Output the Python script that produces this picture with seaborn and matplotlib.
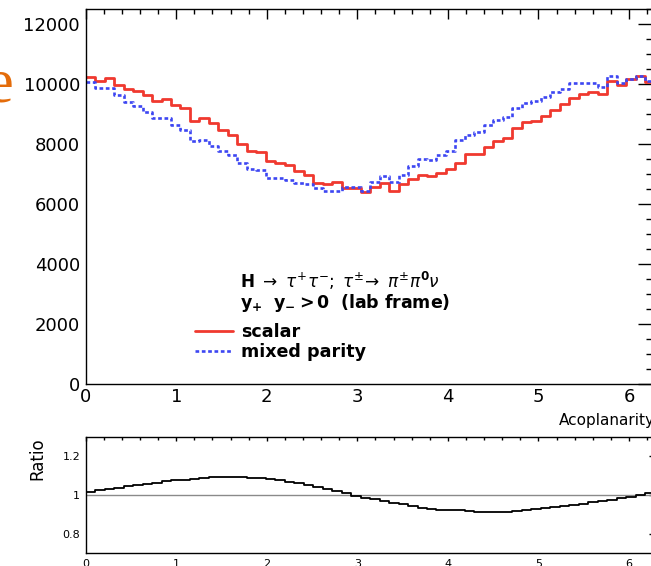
import numpy as np
import pandas as pd
import matplotlib
matplotlib.use("Agg")
import matplotlib.pyplot as plt
import seaborn as sns
from matplotlib.lines import Line2D
from matplotlib.ticker import MultipleLocator, FuncFormatter

# 60 bins over [0, 2pi]
N_BINS = 60
X_MAX = 2 * np.pi

scalar = [10223, 10111, 10200, 9967, 9833, 9756, 9633, 9433, 9489, 9300,
          9189, 8767, 8878, 8689, 8467, 8300, 8000, 7778, 7744, 7444,
          7378, 7300, 7111, 6967, 6711, 6656, 6722, 6544, 6544, 6389,
          6567, 6689, 6444, 6667, 6822, 6967, 6933, 7022, 7156, 7378,
          7656, 7656, 7911, 8100, 8211, 8522, 8722, 8778, 8944, 9133,
          9322, 9522, 9656, 9722, 9667, 10100, 9967, 10156, 10278, 10078]

mixed = [10056, 9856, 9856, 9633, 9411, 9267, 9078, 8856, 8856, 8633,
         8467, 8100, 8133, 7933, 7778, 7633, 7356, 7156, 7133, 6878,
         6856, 6800, 6689, 6656, 6522, 6444, 6444, 6556, 6556, 6444,
         6744, 6933, 6744, 6967, 7278, 7489, 7467, 7633, 7767, 8133,
         8300, 8400, 8633, 8800, 8911, 9211, 9356, 9433, 9578, 9722,
         9833, 10022, 10044, 10044, 9911, 10278, 10044, 10167, 10278, 10100]

ratio = [1.018, 1.024, 1.031, 1.038, 1.045, 1.052, 1.058, 1.064, 1.070, 1.075,
         1.080, 1.085, 1.089, 1.092, 1.093, 1.093, 1.092, 1.090, 1.087, 1.083,
         1.078, 1.068, 1.060, 1.051, 1.042, 1.033, 1.022, 1.008, 0.996, 0.987,
         0.978, 0.969, 0.960, 0.951, 0.942, 0.934, 0.928, 0.924, 0.921, 0.920,
         0.918, 0.913, 0.912, 0.912, 0.912, 0.917, 0.922, 0.928, 0.933, 0.939,
         0.945, 0.950, 0.956, 0.962, 0.968, 0.975, 0.983, 0.991, 0.999, 1.008]

edges = np.linspace(0, X_MAX, N_BINS + 1)
centers = 0.5 * (edges[:-1] + edges[1:])
bin_list = list(edges)
df = pd.DataFrame({"x": centers, "scalar": scalar, "mixed": mixed, "ratio": ratio})

RED = "#f0392f"
BLUE = "#3d46f2"

sns.set_theme(style="white")
plt.rcParams["font.family"] = ["DejaVu Sans"]
plt.rcParams["mathtext.fontset"] = "dejavusans"
plt.rcParams["text.color"] = "black"
plt.rcParams["axes.labelcolor"] = "black"
plt.rcParams["xtick.color"] = "black"
plt.rcParams["ytick.color"] = "black"

fig = plt.figure(figsize=(6.51, 5.66), dpi=100)
ax = fig.add_axes([0.1316, 0.3216, 0.8739, 0.6625])
ax2 = fig.add_axes([0.1316, 0.0230, 0.8739, 0.2049])

# main histograms
sns.histplot(data=df, x="x", weights="scalar", bins=bin_list, element="step",
             fill=False, color=RED, linewidth=2.0, ax=ax)
sns.histplot(data=df, x="x", weights="mixed", bins=bin_list, element="step",
             fill=False, color=BLUE, linewidth=1.9, linestyle=(0, (1.4, 1.0)), ax=ax)

ax.set_xlim(0, X_MAX)
ax.set_ylim(0, 12500)
ax.set_xlabel("")
ax.set_ylabel("")
ax.xaxis.set_major_locator(MultipleLocator(1))
ax.xaxis.set_minor_locator(MultipleLocator(0.2))
ax.yaxis.set_major_locator(MultipleLocator(2000))
ax.yaxis.set_minor_locator(MultipleLocator(500))
ax.tick_params(which="both", direction="in", top=True, right=True, colors="black")
ax.tick_params(axis="y", which="major", length=12.5, width=1.0, labelsize=13, pad=4)
ax.tick_params(axis="y", which="minor", length=6.5, width=1.0)
ax.tick_params(axis="x", which="major", length=7, width=1.0, labelsize=13, pad=3)
ax.tick_params(axis="x", which="minor", length=3.5, width=1.0)
for sp in ax.spines.values():
    sp.set_color("black")
    sp.set_linewidth(1.0)

ax.text(1.0, -0.109, "Acoplanarity", transform=ax.transAxes, ha="right",
        va="baseline", fontsize=11)

# legend block
ax.text(0.2712, 0.2547,
        r"$\mathbf{H}\ \rightarrow\ \tau^{+}\tau^{-};\ \tau^{\pm}\!\rightarrow\ \pi^{\pm}\pi^{\mathbf{0}}\nu$",
        transform=ax.transAxes, ha="left", va="baseline", fontsize=12.2)
ax.text(0.2712, 0.2035, r"$\mathbf{y_{+}\ \ y_{-} > 0\ \ (lab\ frame)}$",
        transform=ax.transAxes, ha="left", va="baseline", fontsize=12.5)
handles = [Line2D([], [], color=RED, lw=2.0),
           Line2D([], [], color=BLUE, lw=1.9, linestyle=(0, (1.4, 1.0)))]
ax.legend(handles, ["scalar", "mixed parity"], loc="upper left",
          bbox_to_anchor=(0.176, 0.186), frameon=False, borderpad=0,
          labelspacing=0.12, handlelength=2.2, handletextpad=0.45,
          prop={"weight": "bold", "size": 12.6}, labelcolor="black")

# ratio panel
ax2.axhline(1.0, color="#8a8a8a", lw=1.0)
sns.histplot(data=df, x="x", weights="ratio", bins=bin_list, element="step",
             fill=False, color="black", linewidth=1.3, ax=ax2)
ax2.set_xlim(0, X_MAX)
ax2.set_ylim(0.7, 1.3)
ax2.set_xlabel("")
ax2.set_ylabel("")
ax2.xaxis.set_major_locator(MultipleLocator(1))
ax2.xaxis.set_minor_locator(MultipleLocator(0.2))
ax2.yaxis.set_major_locator(MultipleLocator(0.2))
ax2.yaxis.set_major_formatter(FuncFormatter(lambda v, p: f"{v:g}"))
ax2.tick_params(which="both", direction="in", top=True, right=True, colors="black")
ax2.tick_params(axis="y", which="major", length=4.5, width=1.0, labelsize=8, pad=4)
ax2.tick_params(axis="x", which="major", length=3, width=1.0, labelsize=8, pad=4)
ax2.tick_params(axis="x", which="minor", length=1.8, width=1.0)
for sp in ax2.spines.values():
    sp.set_color("black")
    sp.set_linewidth(1.0)
ax2.text(-0.0856, 1.0, "Ratio", transform=ax2.transAxes, rotation=90,
         ha="center", va="top", fontsize=12)

# orange fragment at the left edge
fig.text(13 / 651, 1 - 102 / 566, "e", ha="right", va="baseline",
         fontsize=45, family="Liberation Serif", color="#e46c0a")

fig.savefig("out.png", dpi=100)
